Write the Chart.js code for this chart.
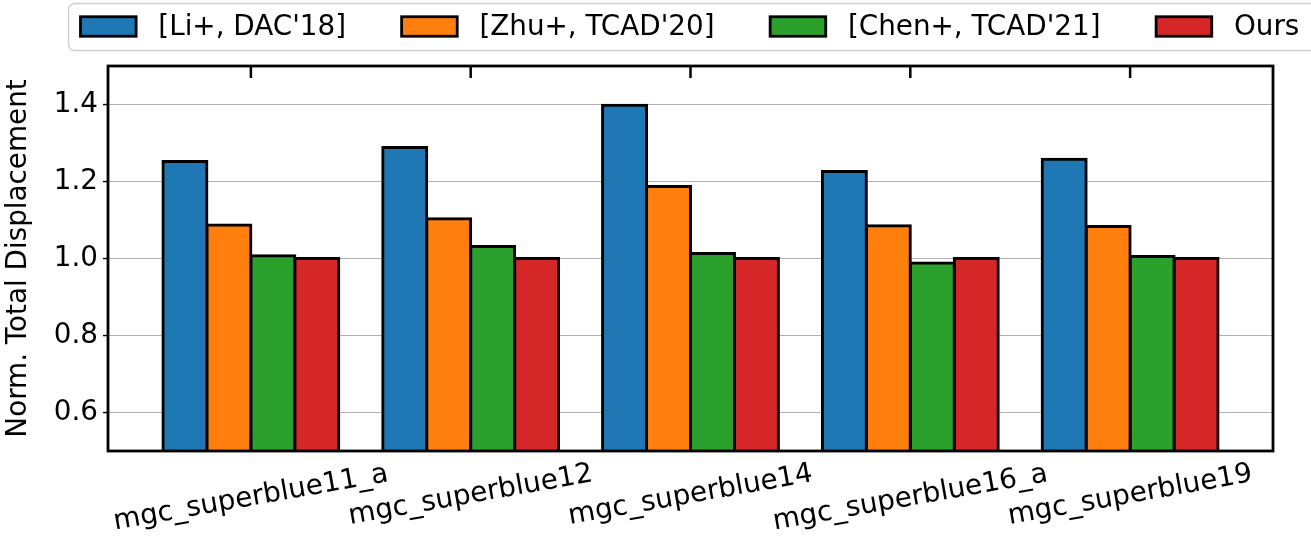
<!DOCTYPE html>
<html>
<head>
<meta charset="utf-8">
<script src="https://cdn.jsdelivr.net/npm/chart.js@4/dist/chart.umd.min.js"></script>
<style>
  html, body { margin: 0; padding: 0; background: #fff; }
  #wrap { width: 1311px; height: 537px; }
</style>
</head>
<body>
<div id="wrap"><canvas id="c" width="1311" height="537"></canvas></div>
<script>
const categories = ['mgc_superblue11_a', 'mgc_superblue12', 'mgc_superblue14', 'mgc_superblue16_a', 'mgc_superblue19'];
const seriesNames = ["[Li+, DAC'18]", "[Zhu+, TCAD'20]", "[Chen+, TCAD'21]", 'Ours'];
const liDAC18 = [1.252, 1.288, 1.398, 1.226, 1.258];
const zhuTCAD20 = [1.087, 1.103, 1.187, 1.085, 1.083];
const chenTCAD21 = [1.007, 1.031, 1.013, 0.988, 1.005];
const ours = [1.0, 1.0, 1.0, 1.0, 1.0];
const yTicks = [0.6, 0.8, 1.0, 1.2, 1.4];
const yLabel = 'Norm. Total Displacement';

const colors = ['#1f77b4', '#ff7f0e', '#2ca02c', '#d62728'];
const FONT = 'DejaVu Sans';
const FS = 27.8;
const seriesValues = [liDAC18, zhuTCAD20, chenTCAD21, ours];

const datasets = seriesValues.map((vals, k) => ({
  label: seriesNames[k],
  data: vals.map((v, i) => ({ x: i, y: v })),
  backgroundColor: colors[k],
  borderColor: '#000',
  borderWidth: 3,
  borderSkipped: 'start',
  inflateAmount: 1.5,
  categoryPercentage: 0.8,
  barPercentage: 1.0
}));

const decor = {
  id: 'decor',
  afterDraw(chart) {
    const ctx = chart.ctx;
    const a = chart.chartArea;
    const xs = chart.scales.x;
    ctx.save();
    ctx.strokeStyle = '#000';
    ctx.lineWidth = 2.5;
    categories.forEach((c, i) => {
      const px = xs.getPixelForValue(i);
      ctx.beginPath();
      ctx.moveTo(px, a.top); ctx.lineTo(px, a.top + 12);
      ctx.moveTo(px, a.bottom); ctx.lineTo(px, a.bottom - 12);
      ctx.stroke();
    });
    ctx.lineWidth = 2.8;
    ctx.strokeRect(a.left, a.top, a.right - a.left, a.bottom - a.top);
    const th = 10 * Math.PI / 180;
    ctx.font = FS + 'px "' + FONT + '"';
    ctx.fillStyle = '#000';
    ctx.textAlign = 'center';
    ctx.textBaseline = 'middle';
    const h = FS * 1.164;
    categories.forEach((c, i) => {
      const px = xs.getPixelForValue(i);
      const w = ctx.measureText(c).width;
      const H = w * Math.sin(th) + h * Math.cos(th);
      const cy = a.bottom + 7 + H / 2;
      ctx.save();
      ctx.translate(px, cy);
      ctx.rotate(-th);
      ctx.fillText(c, 0, 0);
      ctx.restore();
    });
    const ly = 26.5;
    ctx.fillStyle = 'rgba(255,255,255,0.8)';
    ctx.strokeStyle = '#d0d0d0';
    ctx.lineWidth = 1.4;
    const r = 6, bx = 68.5, by = 3.5, bw = 1300, bh = 47;
    ctx.beginPath();
    ctx.moveTo(bx + r, by);
    ctx.lineTo(bx + bw - r, by);
    ctx.arcTo(bx + bw, by, bx + bw, by + r, r);
    ctx.lineTo(bx + bw, by + bh - r);
    ctx.arcTo(bx + bw, by + bh, bx + bw - r, by + bh, r);
    ctx.lineTo(bx + r, by + bh);
    ctx.arcTo(bx, by + bh, bx, by + bh - r, r);
    ctx.lineTo(bx, by + r);
    ctx.arcTo(bx, by, bx + r, by, r);
    ctx.closePath();
    ctx.fill();
    ctx.stroke();
    let x = 80.5;
    ctx.textAlign = 'left';
    ctx.textBaseline = 'middle';
    seriesNames.forEach((name, k) => {
      const sw = 55.6, sh = 19.5;
      ctx.fillStyle = colors[k];
      ctx.fillRect(x, ly - sh / 2, sw, sh);
      ctx.strokeStyle = '#000';
      ctx.lineWidth = 2.8;
      ctx.strokeRect(x, ly - sh / 2, sw, sh);
      x += sw + 22.2;
      ctx.fillStyle = '#000';
      ctx.fillText(name, x, ly + 1);
      x += ctx.measureText(name).width + 55.6;
    });
    ctx.restore();
  }
};

new Chart(document.getElementById('c'), {
  type: 'bar',
  data: { datasets },
  options: {
    responsive: false,
    animation: false,
    devicePixelRatio: 1,
    layout: { padding: { top: 66, right: 38, bottom: 0, left: 0 } },
    plugins: { legend: { display: false }, tooltip: { enabled: false } },
    scales: {
      x: {
        type: 'linear',
        min: -0.65,
        max: 4.65,
        offset: false,
        grid: { display: false },
        border: { display: false },
        ticks: { display: false },
        afterBuildTicks: s => { s.ticks = categories.map((c, i) => ({ value: i })); },
        afterFit: s => { s.height = 86; }
      },
      y: {
        type: 'linear',
        min: 0.5,
        max: 1.5,
        afterBuildTicks: s => { s.ticks = yTicks.map(v => ({ value: v })); },
        afterFit: s => { s.width = 108; },
        grid: { color: '#b0b0b0', lineWidth: 1.1, tickColor: '#000', tickLength: 5, tickWidth: 1.4 },
        border: { display: false },
        ticks: {
          color: '#000',
          padding: 5,
          font: { family: FONT, size: FS },
          callback: v => Number(v).toFixed(1)
        },
        title: {
          display: true,
          text: yLabel,
          color: '#000',
          font: { family: FONT, size: FS },
          padding: { top: 2, bottom: 0 }
        }
      }
    }
  },
  plugins: [decor]
});
</script>
</body>
</html>
